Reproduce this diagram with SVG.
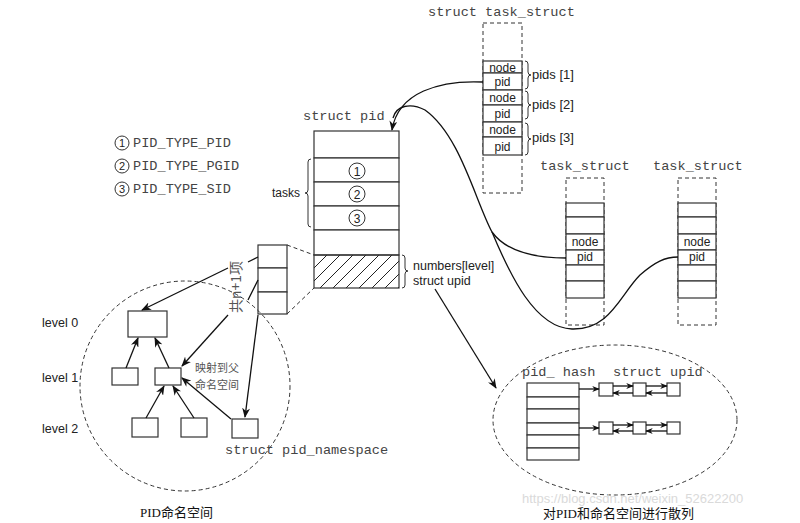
<svg xmlns="http://www.w3.org/2000/svg" width="800" height="523" viewBox="0 0 800 523">
<defs>
<marker id="ah" viewBox="0 0 10 8" refX="9" refY="4" markerWidth="10" markerHeight="8" markerUnits="userSpaceOnUse" orient="auto">
<path d="M0,0 L10,4 L0,8 L3,4 z" fill="#111"/>
</marker>
<marker id="ahs" viewBox="0 0 10 8" refX="9" refY="4" markerWidth="8" markerHeight="6" markerUnits="userSpaceOnUse" orient="auto">
<path d="M0,0 L10,4 L0,8 L3,4 z" fill="#111"/>
</marker>
<pattern id="hatch" patternUnits="userSpaceOnUse" width="13" height="13" patternTransform="translate(314,255)">
<path d="M-1,14 L14,-1 M-14,14 L1,-1 M12,27 L27,12" stroke="#222" stroke-width="1"/>
</pattern>
</defs>
<style>
.box{fill:#fff;stroke:#333;stroke-width:1.2}
.dash{fill:none;stroke:#333;stroke-width:1;stroke-dasharray:4,3}
.ln{fill:none;stroke:#111;stroke-width:1.3}
.mono{font-family:"Liberation Mono","DejaVu Sans Mono",monospace;font-size:13.6px;fill:#444}
.sans{font-family:"Liberation Sans",Arial,sans-serif;font-size:12px;fill:#222}
.cn{font-family:"Noto Sans CJK SC",sans-serif;font-size:11px;fill:#555}
.cap{font-family:"Liberation Serif","Noto Sans CJK SC",serif;font-size:13px;fill:#111}
.brace{fill:none;stroke:#333;stroke-width:1}
</style>

<g id="task_struct_top">
<text class="mono" x="428" y="16">struct task_struct</text>
<rect class="dash" x="483" y="23" width="39" height="170"/>
<rect class="box" x="483" y="61" width="39" height="12"/>
<rect class="box" x="483" y="73" width="39" height="17"/>
<rect class="box" x="483" y="90" width="39" height="15"/>
<rect class="box" x="483" y="105" width="39" height="17"/>
<rect class="box" x="483" y="122" width="39" height="15"/>
<rect class="box" x="483" y="137" width="39" height="18"/>
<g class="sans" text-anchor="middle">
<text x="502.5" y="71.5">node</text>
<text x="502.5" y="86">pid</text>
<text x="502.5" y="102">node</text>
<text x="502.5" y="118">pid</text>
<text x="502.5" y="134">node</text>
<text x="502.5" y="151">pid</text>
</g>
<path class="brace" d="M525,61 Q528,61 528,64 L528,72 Q528,75 531,75 Q528,75 528,78 L528,86 Q528,89 525,89"/>
<path class="brace" d="M525,91 Q528,91 528,94 L528,102 Q528,105 531,105 Q528,105 528,108 L528,116 Q528,119 525,119"/>
<path class="brace" d="M525,123 Q528,123 528,126 L528,136 Q528,139 531,139 Q528,139 528,142 L528,152 Q528,155 525,155"/>
<text class="sans" x="532" y="79" style="font-size:13px">pids [1]</text>
<text class="sans" x="532" y="109" style="font-size:13px">pids [2]</text>
<text class="sans" x="532" y="142" style="font-size:13px">pids [3]</text>
</g>

<g id="struct_pid">
<text class="mono" x="303" y="120">struct pid</text>
<rect class="box" x="314" y="131" width="85" height="27"/>
<rect class="box" x="314" y="158" width="85" height="24"/>
<rect class="box" x="314" y="182" width="85" height="24"/>
<rect class="box" x="314" y="206" width="85" height="24"/>
<rect class="box" x="314" y="230" width="85" height="25"/>
<rect x="314" y="255" width="85" height="33" fill="url(#hatch)" stroke="#333" stroke-width="1.2"/>
<g fill="none" stroke="#333" stroke-width="1">
<circle cx="357" cy="171" r="8"/>
<circle cx="357" cy="194" r="8"/>
<circle cx="357" cy="218" r="8"/>
</g>
<g class="sans" text-anchor="middle" style="font-size:12px">
<text x="357" y="175.5">1</text>
<text x="357" y="198.5">2</text>
<text x="357" y="222.5">3</text>
</g>
<path class="brace" d="M311,159 Q308,159 308,162 L308,190 Q308,193 305,193 Q308,193 308,196 L308,224 Q308,227 311,227"/>
<text class="sans" x="272" y="197">tasks</text>
<path class="brace" d="M402,255 Q405,255 405,258 L405,268 Q405,271 408,271 Q405,271 405,274 L405,285 Q405,288 402,288"/>
<text class="sans" x="413" y="270" style="font-size:12.5px">numbers[level]</text>
<text class="sans" x="413" y="285" style="font-size:12.5px">struct upid</text>
</g>

<g id="legend">
<g fill="none" stroke="#333" stroke-width="1">
<circle cx="122" cy="143" r="7"/>
<circle cx="122" cy="166" r="7"/>
<circle cx="122" cy="189" r="7"/>
</g>
<g class="sans" text-anchor="middle" style="font-size:11px">
<text x="122" y="147">1</text>
<text x="122" y="170">2</text>
<text x="122" y="193">3</text>
</g>
<text class="mono" x="133" y="147">PID_TYPE_PID</text>
<text class="mono" x="133" y="170">PID_TYPE_PGID</text>
<text class="mono" x="133" y="193">PID_TYPE_SID</text>
</g>

<g id="task_struct_1">
<text class="mono" x="540" y="170">task_struct</text>
<rect class="dash" x="566" y="178" width="38" height="147"/>
<rect class="box" x="566" y="203" width="38" height="14"/>
<rect class="box" x="566" y="217" width="38" height="17"/>
<rect class="box" x="566" y="234" width="38" height="16"/>
<rect class="box" x="566" y="250" width="38" height="15"/>
<rect class="box" x="566" y="265" width="38" height="16"/>
<rect class="box" x="566" y="281" width="38" height="17"/>
<text class="sans" x="585" y="246" text-anchor="middle">node</text>
<text class="sans" x="585" y="261" text-anchor="middle">pid</text>
</g>

<g id="task_struct_2">
<text class="mono" x="653" y="170">task_struct</text>
<rect class="dash" x="678" y="178" width="38" height="147"/>
<rect class="box" x="678" y="203" width="38" height="14"/>
<rect class="box" x="678" y="217" width="38" height="17"/>
<rect class="box" x="678" y="234" width="38" height="16"/>
<rect class="box" x="678" y="250" width="38" height="15"/>
<rect class="box" x="678" y="265" width="38" height="16"/>
<rect class="box" x="678" y="281" width="38" height="17"/>
<text class="sans" x="697" y="246" text-anchor="middle">node</text>
<text class="sans" x="697" y="261" text-anchor="middle">pid</text>
</g>

<g id="level_array">
<rect class="box" x="258" y="245" width="29" height="23"/>
<rect class="box" x="258" y="268" width="29" height="24"/>
<rect class="box" x="258" y="292" width="29" height="22"/>
<text class="cn" transform="translate(241,287) rotate(-90)" text-anchor="middle" style="font-size:14px">共n+1项</text>
</g>

<g id="pid_namespace">
<ellipse class="dash" cx="185" cy="386" rx="105" ry="105"/>
<text class="sans" x="42" y="327" style="font-size:12.5px">level 0</text>
<text class="sans" x="42" y="382" style="font-size:12.5px">level 1</text>
<text class="sans" x="42" y="433" style="font-size:12.5px">level 2</text>
<rect class="box" x="128" y="311" width="39" height="26"/>
<rect class="box" x="112" y="368" width="26" height="17"/>
<rect class="box" x="155" y="368" width="26" height="17"/>
<rect class="box" x="132" y="418" width="26" height="19"/>
<rect class="box" x="181" y="418" width="26" height="19"/>
<rect class="box" x="232" y="419" width="26" height="19"/>
<text class="cn" x="195" y="372">映射到父</text>
<text class="cn" x="195" y="389">命名空间</text>
<text class="mono" x="225" y="454">struct pid_namespace</text>
</g>

<g id="pid_hash">
<ellipse class="dash" cx="615" cy="420" rx="122" ry="75"/>
<text class="mono" x="522" y="376">pid_ hash</text>
<text class="mono" x="613" y="376">struct upid</text>
<rect class="box" x="527" y="383" width="52" height="14"/>
<rect class="box" x="527" y="397" width="52" height="12"/>
<rect class="box" x="527" y="409" width="52" height="14"/>
<rect class="box" x="527" y="423" width="52" height="12"/>
<rect class="box" x="527" y="435" width="52" height="13"/>
<rect class="box" x="527" y="448" width="52" height="12"/>
<rect class="box" x="599" y="383" width="14" height="13"/>
<rect class="box" x="633" y="383" width="13" height="13"/>
<rect class="box" x="667" y="383" width="13" height="13"/>
<rect class="box" x="599" y="422" width="14" height="12"/>
<rect class="box" x="633" y="422" width="13" height="12"/>
<rect class="box" x="667" y="422" width="13" height="12"/>
</g>

<g id="captions">
<text class="cap" x="140" y="517">PID命名空间</text>
<text class="cap" x="543" y="518">对PID和命名空间进行散列</text>
<text x="522" y="503" style="font-family:'Liberation Sans',Arial,sans-serif;font-size:13px;fill:#dadada">https://blog.csdn.net/weixin_52622200</text>
</g>

<g id="connectors">
<path class="ln" d="M483,82 C440,80 398,92 392,130" marker-end="url(#ah)"/>
<path class="ln" d="M393,118 C396,106 410,102 425,110 C460,135 475,200 492,232 C505,250 530,258 566,258"/>
<path class="ln" d="M492,232 C510,275 535,328 572,329 C610,330 620,295 640,275 C655,262 665,257 678,257"/>
<path class="dash" d="M287,245 L314,255 M287,314 L314,288"/>
<path class="ln" d="M248,262 L258,257 M248,300 L258,280" stroke-width="1.1"/>
<path class="ln" d="M228,268 L142,310" marker-end="url(#ah)"/>
<path class="ln" d="M228,315 L182,366" marker-end="url(#ah)"/>
<path class="ln" d="M258,315 L245,417" marker-end="url(#ah)"/>
<path class="ln" d="M126,368 L138,338" marker-end="url(#ah)"/>
<path class="ln" d="M169,368 L155,338" marker-end="url(#ah)"/>
<path class="ln" d="M146,418 L164,386" marker-end="url(#ah)"/>
<path class="ln" d="M194,418 L173,386" marker-end="url(#ah)"/>
<path class="ln" d="M231,419 L182,378" marker-end="url(#ah)"/>
<path class="ln" d="M435,289 L496,388" marker-end="url(#ah)"/>
<path class="ln" d="M579,389 L599,389" marker-end="url(#ahs)"/>
<path class="ln" d="M579,428 L599,428" marker-end="url(#ahs)"/>
<path class="ln" d="M613,386 L633,386" marker-end="url(#ahs)"/>
<path class="ln" d="M633,393 L613,393" marker-end="url(#ahs)"/>
<path class="ln" d="M646,386 L667,386" marker-end="url(#ahs)"/>
<path class="ln" d="M667,393 L646,393" marker-end="url(#ahs)"/>
<path class="ln" d="M613,425 L633,425" marker-end="url(#ahs)"/>
<path class="ln" d="M633,431 L613,431" marker-end="url(#ahs)"/>
<path class="ln" d="M646,425 L667,425" marker-end="url(#ahs)"/>
<path class="ln" d="M667,431 L646,431" marker-end="url(#ahs)"/>
</g>
</svg>
